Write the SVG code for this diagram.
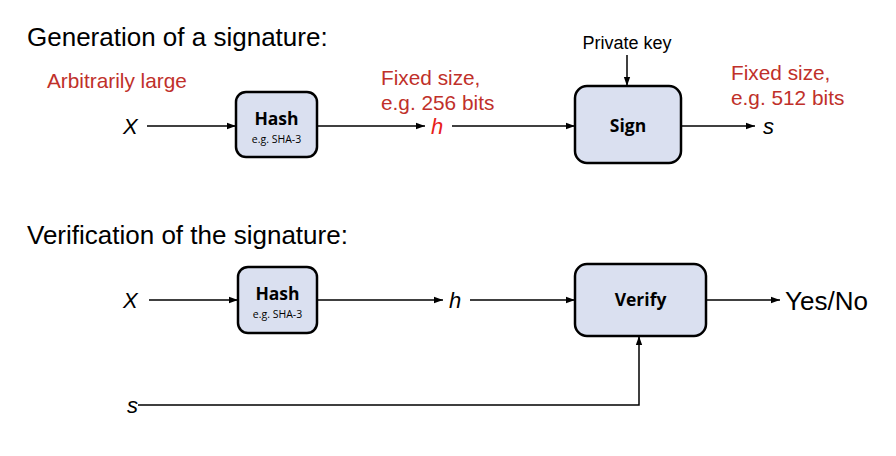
<svg xmlns="http://www.w3.org/2000/svg" width="896" height="456" viewBox="0 0 896 456">
<defs>
<marker id="ah" viewBox="0 0 10 10" refX="10" refY="5" markerWidth="9" markerHeight="9" markerUnits="userSpaceOnUse" orient="auto">
<path d="M0,1.5 L10,5 L0,8.5 z" fill="#000"/>
</marker>
<style>
.box{fill:#dae0f0;stroke:#000;stroke-width:2.5}
.lbl{font-family:"Open Sans","Liberation Sans",sans-serif;font-weight:bold;font-size:17.5px;text-anchor:middle;fill:#000}
.sub{font-family:"Open Sans","Liberation Sans",sans-serif;font-size:10.5px;text-anchor:middle;fill:#000}
.ttl{font-family:"Liberation Sans",Arial,sans-serif;font-size:26px;fill:#000}
.red{font-family:"Liberation Sans",Arial,sans-serif;font-size:20.8px;fill:#c0302a}
.var{font-family:"Liberation Sans",Arial,sans-serif;font-size:22px;font-style:italic;fill:#000}
.sm{font-family:"Liberation Sans",Arial,sans-serif;font-size:18px;fill:#000}
.ln{stroke:#000;stroke-width:1.5;fill:none}
</style>
</defs>
<text class="ttl" x="27" y="46">Generation of a signature:</text>
<text class="ttl" x="27" y="244">Verification of the signature:</text>
<text class="red" x="47" y="88">Arbitrarily large</text>
<text class="red" x="381" y="85">Fixed size,</text>
<text class="red" x="381" y="110">e.g. 256 bits</text>
<text class="red" x="731" y="80">Fixed size,</text>
<text class="red" x="731" y="105">e.g. 512 bits</text>
<text class="sm" x="627" y="49" text-anchor="middle">Private key</text>
<text class="var" x="123" y="134">X</text>
<text class="var" x="431" y="134" style="fill:#e8201a">h</text>
<text class="var" x="763" y="134">s</text>
<text class="var" x="123" y="308">X</text>
<text class="var" x="449" y="308">h</text>
<text class="var" x="127" y="413">s</text>
<text x="785" y="310" style="font-family:'Liberation Sans',Arial,sans-serif;font-size:26px;fill:#000">Yes/No</text>
<g id="hash1"><rect class="box" x="236" y="92" width="81" height="65" rx="10"/><text class="lbl" x="276.5" y="125">Hash</text><text class="sub" x="276.5" y="143">e.g. SHA-3</text></g>
<g id="sign"><rect class="box" x="575" y="86" width="106" height="77" rx="12"/><text class="lbl" x="628" y="132">Sign</text></g>
<g id="hash2"><rect class="box" x="238" y="267" width="79" height="66" rx="10"/><text class="lbl" x="277.5" y="300">Hash</text><text class="sub" x="277.5" y="318">e.g. SHA-3</text></g>
<g id="verify"><rect class="box" x="575" y="264" width="131" height="72" rx="12"/><text class="lbl" x="640.5" y="306">Verify</text></g>
<g id="connectors">
<line class="ln" x1="147" y1="126" x2="236" y2="126" marker-end="url(#ah)"/>
<line class="ln" x1="317" y1="126" x2="425" y2="126" marker-end="url(#ah)"/>
<line class="ln" x1="452" y1="126" x2="575" y2="126" marker-end="url(#ah)"/>
<line class="ln" x1="681" y1="126" x2="755" y2="126" marker-end="url(#ah)"/>
<line class="ln" x1="627" y1="55" x2="627" y2="86" marker-end="url(#ah)"/>
<line class="ln" x1="149" y1="300" x2="238" y2="300" marker-end="url(#ah)"/>
<line class="ln" x1="317" y1="300" x2="443" y2="300" marker-end="url(#ah)"/>
<line class="ln" x1="470" y1="300" x2="575" y2="300" marker-end="url(#ah)"/>
<line class="ln" x1="706" y1="300" x2="780" y2="300" marker-end="url(#ah)"/>
<polyline class="ln" points="138,405 639,405 639,336" marker-end="url(#ah)"/>
</g>
</svg>
